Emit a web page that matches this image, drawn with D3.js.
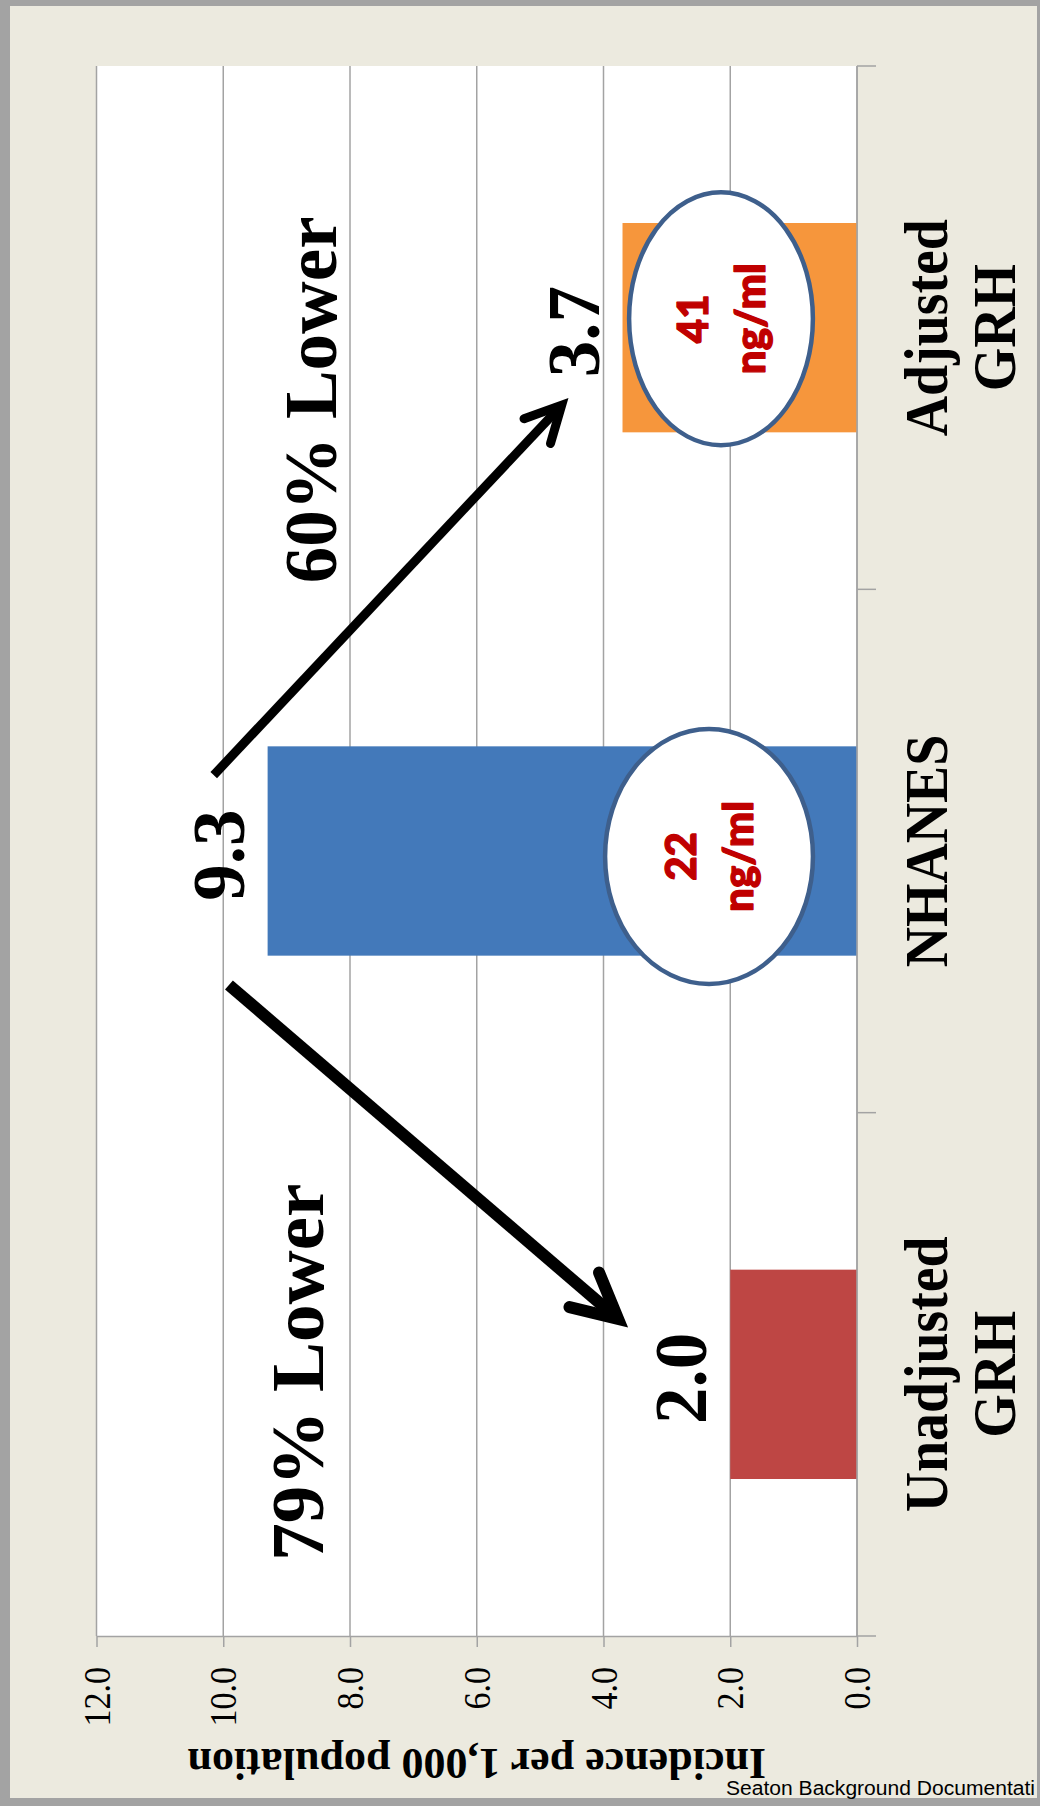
<!DOCTYPE html>
<html><head><meta charset="utf-8">
<script src="https://cdn.jsdelivr.net/npm/d3@7"></script>
<style>html,body{margin:0;padding:0;background:#fff;} svg{display:block;}</style>
</head><body><svg id="c" width="1040" height="1806"></svg>
<script>
// ---------- data ----------
const categories = ["Adjusted GRH", "NHANES", "Unadjusted GRH"];
const categoryLabels = [["Adjusted", "GRH"], ["NHANES"], ["Unadjusted", "GRH"]];
const values = [3.7, 9.3, 2.0];
const valueLabels = ["3.7", "9.3", "2.0"];
const barColors = ["#F6963C", "#4379BA", "#BE4644"];
const tickValues = [0, 2, 4, 6, 8, 10, 12];
const tickLabels = ["0.0", "2.0", "4.0", "6.0", "8.0", "10.0", "12.0"];
const levelCategories = ["Adjusted GRH", "NHANES"];
const levelLabels = [["41", "ng/ml"], ["22", "ng/ml"]];
const changeLabels = ["60% Lower", "79% Lower"];
const axisTitle = "Incidence per 1,000 population";
const footerText = "Seaton Background Documentati";

// ---------- layout (annotation placement in data units) ----------
const ellipseLayout = [
  {v: 2.146, c: 0.483, rv: 1.45, rc: 0.2417},
  {v: 2.335, c: 1.5105, rv: 1.64, rc: 0.2437}
];
const arrowLayout = [
  {from: [10.15, 1.355], to: [4.66, 0.648], w: 9, head: 40},
  {from: [9.91, 1.756], to: [3.77, 2.394], w: 12, head: 50}
];
const changeLayout = [
  {v: 8.22, c: 0.638, size: 73},
  {v: 8.43, c: 2.496, size: 75}
];

const W = 1040, H = 1806;
const plot = {left: 96.5, right: 857, top: 66, bottom: 1636};
const serif = "'Liberation Serif','Times New Roman',serif";
const gridColor = "#A3A3A3";

const svg = d3.select("#c");
svg.append("rect").attr("width", W).attr("height", H).attr("fill", "#A3A3A3");
svg.append("rect").attr("x", 10).attr("y", 6).attr("width", 1027).attr("height", 1792).attr("fill", "#ECEADF");

const x = d3.scaleLinear().domain([0, 12]).range([plot.right, plot.left]);
const y = d3.scaleBand().domain(categories).range([plot.top, plot.bottom])
  .paddingInner(0.6).paddingOuter(0.3);
const yPos = d3.scaleLinear().domain([0, categories.length]).range([plot.top, plot.bottom]);

// plot area
svg.append("rect").attr("x", plot.left).attr("y", plot.top)
  .attr("width", plot.right - plot.left).attr("height", plot.bottom - plot.top).attr("fill", "#fff");

// gridlines
svg.append("g").selectAll("line").data(tickValues).join("line")
  .attr("x1", d => x(d)).attr("x2", d => x(d))
  .attr("y1", plot.top).attr("y2", plot.bottom)
  .attr("stroke", gridColor).attr("stroke-width", 1.5);

// bars
svg.append("g").selectAll("rect").data(categories).join("rect")
  .attr("x", (d, i) => x(values[i]))
  .attr("y", d => y(d))
  .attr("width", (d, i) => x(0) - x(values[i]))
  .attr("height", y.bandwidth())
  .attr("fill", (d, i) => barColors[i]);

// value axis (bottom)
const vAxis = d3.axisBottom(x).tickValues(tickValues).tickSize(11).tickSizeOuter(0).tickFormat("");
const vg = svg.append("g").attr("transform", `translate(0,${plot.bottom})`).call(vAxis);
vg.selectAll("path,line").attr("stroke", gridColor).attr("stroke-width", 1.5);
svg.append("g").selectAll("text").data(tickValues).join("text")
  .attr("transform", d => `translate(${x(d) + 13},${plot.bottom + 31}) rotate(-90) scale(0.92,1)`)
  .attr("text-anchor", "end")
  .attr("font-family", serif).attr("font-size", 37).attr("fill", "#000")
  .text((d, i) => tickLabels[i]);

// category axis (right)
svg.append("line").attr("x1", plot.right).attr("x2", plot.right)
  .attr("y1", plot.top).attr("y2", plot.bottom)
  .attr("stroke", gridColor).attr("stroke-width", 1.5);
svg.append("g").selectAll("line").data(d3.range(categories.length + 1)).join("line")
  .attr("x1", plot.right).attr("x2", plot.right + 19)
  .attr("y1", d => yPos(d)).attr("y2", d => yPos(d))
  .attr("stroke", gridColor).attr("stroke-width", 1.5);
const cl = svg.append("g").selectAll("text").data(categories).join("text")
  .attr("transform", d => `translate(947,${y(d) + y.bandwidth() / 2}) rotate(-90) scale(0.9,1)`)
  .attr("text-anchor", "middle")
  .attr("font-family", serif).attr("font-size", 62).attr("font-weight", "bold").attr("fill", "#000");
cl.each(function(d, i) {
  const t = d3.select(this);
  categoryLabels[i].forEach((ln, k) => {
    t.append("tspan").attr("x", 0).attr("y", k * 68).text(ln);
  });
});

// axis title (upside down)
svg.append("text")
  .attr("transform", `translate(${(plot.left + plot.right) / 2},1749) rotate(180)`)
  .attr("text-anchor", "middle")
  .attr("font-family", serif).attr("font-size", 44).attr("font-weight", "bold").attr("fill", "#000")
  .text(axisTitle);

// ellipses with levels
ellipseLayout.forEach((e, i) => {
  const cx = x(e.v), cy = yPos(e.c);
  svg.append("ellipse").attr("cx", cx).attr("cy", cy)
    .attr("rx", x(0) - x(e.rv)).attr("ry", yPos(e.rc) - yPos(0))
    .attr("fill", "#fff").attr("stroke", "#3E5F8C").attr("stroke-width", 4.5);
  const t = svg.append("text")
    .attr("transform", `translate(${cx},${cy}) rotate(-90)`)
    .attr("text-anchor", "middle")
    .attr("font-family", "Lato, 'Open Sans', sans-serif").attr("font-size", 42)
    .attr("font-weight", 900).attr("fill", "#C00000")
    .attr("stroke", "#C00000").attr("stroke-width", 1.3).attr("stroke-linejoin", "round");
  levelLabels[i].forEach((ln, k) => {
    t.append("tspan").attr("x", 0).attr("y", k === 0 ? -13 : 44).text(ln);
  });
});

// value labels
svg.append("g").selectAll("text").data(categories).join("text")
  .attr("transform", (d, i) => `translate(${x(values[i]) - 24},${y(d) + y.bandwidth() / 2 + 4}) rotate(-90)`)
  .attr("text-anchor", "middle")
  .attr("font-family", serif).attr("font-size", 73).attr("font-weight", "bold").attr("fill", "#000")
  .text((d, i) => valueLabels[i]);

// change labels
svg.append("g").selectAll("text").data(changeLabels).join("text")
  .attr("transform", (d, i) => `translate(${x(changeLayout[i].v)},${yPos(changeLayout[i].c)}) rotate(-90)`)
  .attr("text-anchor", "middle")
  .attr("font-family", serif).attr("font-size", (d, i) => changeLayout[i].size)
  .attr("font-weight", "bold").attr("fill", "#000")
  .text(d => d);

// arrows
arrowLayout.forEach(a => {
  const x1 = x(a.from[0]), y1 = yPos(a.from[1]);
  const x2 = x(a.to[0]), y2 = yPos(a.to[1]);
  const ang = Math.atan2(y2 - y1, x2 - x1);
  const back = ang + Math.PI;
  const da = 27 * Math.PI / 180;
  const p1 = [x2 + a.head * Math.cos(back + da), y2 + a.head * Math.sin(back + da)];
  const p2 = [x2 + a.head * Math.cos(back - da), y2 + a.head * Math.sin(back - da)];
  const ex = x2 - Math.cos(ang) * a.w * 0.6, ey = y2 - Math.sin(ang) * a.w * 0.6;
  svg.append("line").attr("x1", x1).attr("y1", y1).attr("x2", ex).attr("y2", ey)
    .attr("stroke", "#000").attr("stroke-width", a.w).attr("stroke-linecap", "butt");
  svg.append("path")
    .attr("d", `M${p1[0]},${p1[1]}L${x2},${y2}L${p2[0]},${p2[1]}`)
    .attr("fill", "none").attr("stroke", "#000").attr("stroke-width", a.w)
    .attr("stroke-linecap", "round").attr("stroke-linejoin", "miter").attr("stroke-miterlimit", 10);
});

// footer
svg.append("text")
  .attr("x", 726).attr("y", 1795)
  .attr("font-family", "'Liberation Sans', Arial, sans-serif").attr("font-size", 20).attr("fill", "#000")
  .attr("textLength", 309).attr("lengthAdjust", "spacingAndGlyphs")
  .text(footerText);
</script>
</body></html>
